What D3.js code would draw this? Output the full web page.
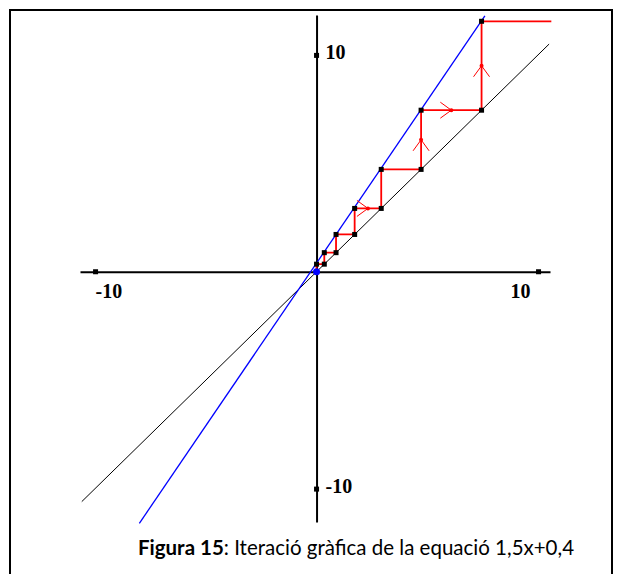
<!DOCTYPE html>
<html>
<head>
<meta charset="utf-8">
<script src="https://cdn.jsdelivr.net/npm/d3@7/dist/d3.min.js"></script>
<style>
  html, body { margin: 0; padding: 0; background: #fff; }
  svg { display: block; }
</style>
</head>
<body>
<svg id="chart" width="622" height="574"></svg>
<script>
// Cobweb diagram of x -> 1,5x + 0,4

// axis extents (data units)
const xAxisRange = [-10.68, 10.54];
const yAxisRange = [-11.54, 11.84];
const tickValues = [-10, 10];
const tickLabels = ["-10", "10"];

// identity line y = x
const identityX = [-10.6, 10.5];
const identityY = [-10.6, 10.5];

// function line y = 1,5x + 0,4
const funcX = [-8.0, 7.6];
const funcY = [-11.6, 11.8];

// successive iterates x0, x1, x2 ...
const iterates = [0, 0.35, 0.88, 1.72, 2.92, 4.72, 7.45, 11.55];
// final horizontal run ends here (x)
const runEndX = 10.6;
// staircase segments carrying a direction arrow
const arrowSegments = [7, 10, 11, 12];

const captionBold = "Figura 15";
const captionText = ": Iteració gràfica de la equació 1,5x+0,4";

const svg = d3.select("#chart");

// frame
svg.append("path")
  .attr("d", "M10,580 L10,10 L612,10 L612,580")
  .attr("fill", "none").attr("stroke", "#000").attr("stroke-width", 2);

const x = d3.scaleLinear().domain(xAxisRange).range([80, 550]);
const y = d3.scaleLinear().domain(yAxisRange).range([522, 15]);

const labelFont = "'Liberation Serif', 'Times New Roman', serif";

// x axis
const gx = svg.append("g")
  .attr("transform", `translate(0,${y(0)})`)
  .call(d3.axisBottom(x).tickValues(tickValues).tickSize(0).tickSizeOuter(0)
        .tickFormat((d, i) => tickLabels[i]));
gx.select(".domain").attr("stroke", "#000").attr("stroke-width", 2);
gx.selectAll(".tick text")
  .attr("font-family", labelFont).attr("font-weight", "bold").attr("font-size", 20)
  .attr("fill", "#000")
  .attr("y", 0).attr("dy", 26)
  .attr("text-anchor", (d, i) => i === 0 ? "start" : "end")
  .attr("dx", (d, i) => i === 0 ? 0 : -8);
gx.selectAll(".tick").append("rect")
  .attr("x", -2.5).attr("y", -2.5).attr("width", 5).attr("height", 5).attr("fill", "#000");

// y axis
const gy = svg.append("g")
  .attr("transform", `translate(${x(0)},0)`)
  .call(d3.axisRight(y).tickValues(tickValues).tickSize(0).tickSizeOuter(0)
        .tickFormat((d, i) => tickLabels[i]));
gy.select(".domain").attr("stroke", "#000").attr("stroke-width", 2);
gy.selectAll(".tick text")
  .attr("font-family", labelFont).attr("font-weight", "bold").attr("font-size", 20)
  .attr("fill", "#000")
  .attr("x", 9).attr("dy", 4).attr("dominant-baseline", "auto")
  .attr("text-anchor", "start");
gy.selectAll(".tick").append("rect")
  .attr("x", -2.5).attr("y", -2.5).attr("width", 5).attr("height", 5).attr("fill", "#000");

const line = d3.line().x(d => x(d[0])).y(d => y(d[1]));

// y = x
svg.append("path")
  .datum(d3.zip(identityX, identityY))
  .attr("d", line).attr("fill", "none").attr("stroke", "#000").attr("stroke-width", 1);

// y = f(x)
svg.append("path")
  .datum(d3.zip(funcX, funcY))
  .attr("d", line).attr("fill", "none").attr("stroke", "#0000ff").attr("stroke-width", 1.3);

// staircase vertices
const stair = [[iterates[0], iterates[0]]];
for (let i = 0; i < iterates.length - 1; i++) {
  stair.push([iterates[i], iterates[i + 1]]);
  stair.push([iterates[i + 1], iterates[i + 1]]);
}
stair.pop();
stair.push([runEndX, iterates[iterates.length - 1]]);

svg.append("path")
  .datum(stair)
  .attr("d", line).attr("fill", "none").attr("stroke", "#ff0000").attr("stroke-width", 1.8);

// direction arrows (open chevrons at segment midpoints)
arrowSegments.forEach(si => {
  const a = stair[si], b = stair[si + 1];
  const mx = (x(a[0]) + x(b[0])) / 2, my = (y(a[1]) + y(b[1])) / 2;
  const ang = Math.atan2(y(b[1]) - y(a[1]), x(b[0]) - x(a[0])) * 180 / Math.PI;
  const g = svg.append("g").attr("transform", `translate(${mx},${my}) rotate(${ang})`);
  g.append("path").attr("d", "M-11,-8 L0,0 L-11,8")
    .attr("fill", "none").attr("stroke", "#ff0000").attr("stroke-width", 1);
  g.append("circle").attr("r", 2).attr("fill", "#ff0000");
});

// iterate markers
svg.append("g").selectAll("rect")
  .data(stair.slice(1, stair.length - 1))
  .join("rect")
  .attr("x", d => x(d[0]) - 2.5).attr("y", d => y(d[1]) - 2.5)
  .attr("width", 5).attr("height", 5).attr("fill", "#000");

// starting point
svg.append("circle")
  .attr("cx", x(iterates[0])).attr("cy", y(iterates[0])).attr("r", 3.5)
  .attr("fill", "#0000ff");

// caption
const cap = svg.append("text")
  .attr("x", 356).attr("y", 555)
  .attr("text-anchor", "middle")
  .attr("font-family", "Lato, 'Open Sans', sans-serif")
  .attr("font-size", 20.5)
  .attr("fill", "#000");
cap.append("tspan").attr("font-weight", "bold").text(captionBold);
cap.append("tspan").text(captionText);
</script>
</body>
</html>
